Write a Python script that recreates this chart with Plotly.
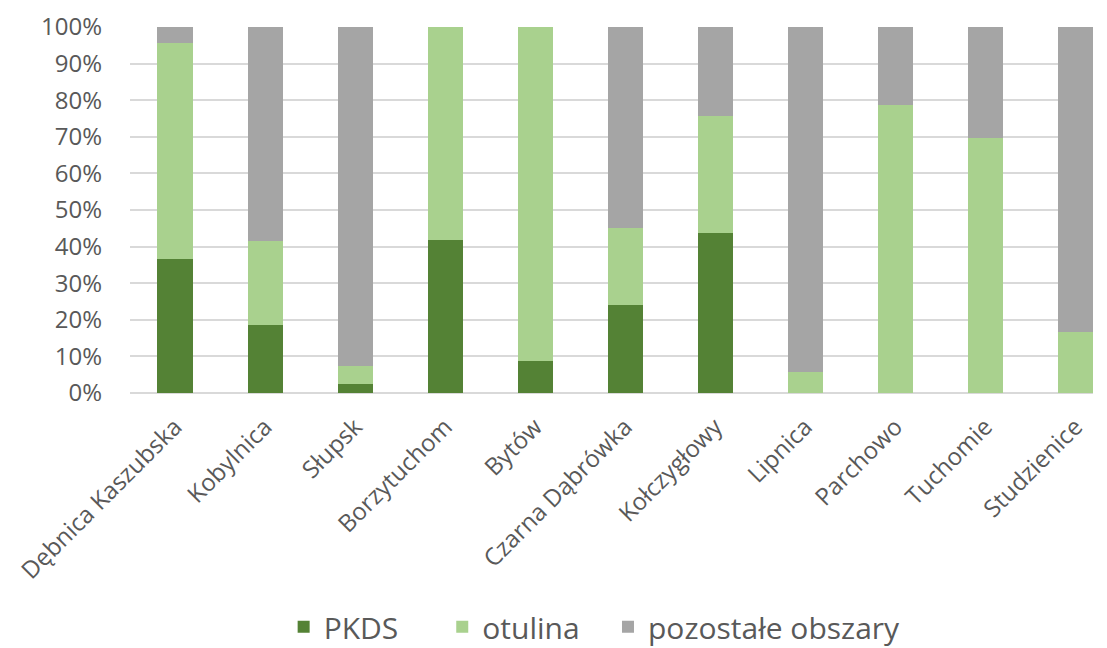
import plotly.graph_objects as go

categories = ["Dębnica Kaszubska", "Kobylnica", "Słupsk", "Borzytuchom", "Bytów",
              "Czarna Dąbrówka", "Kołczygłowy", "Lipnica", "Parchowo", "Tuchomie", "Studzienice"]
pkds = [36.6, 18.5, 2.4, 41.8, 8.7, 24.1, 43.8, 0.0, 0.0, 0.0, 0.0]
otulina = [59.0, 23.1, 5.0, 58.2, 91.3, 20.9, 31.8, 5.8, 78.8, 69.8, 16.8]
pozostale = [4.4, 58.4, 92.6, 0.0, 0.0, 55.0, 24.4, 94.2, 21.2, 30.2, 83.2]
series_names = ["PKDS", "otulina", "pozostałe obszary"]
y_ticks = [0, 10, 20, 30, 40, 50, 60, 70, 80, 90, 100]
y_tick_labels = [f"{v}%" for v in y_ticks]

font_family = "'Open Sans', Lato, sans-serif"
text_color = "#595959"
colors = ["#548235", "#A9D18E", "#A5A5A5"]
# trailing non-breaking spaces emulate Excel's equal-width legend entries
name_pad = [5, 3, 0]

fig = go.Figure()
for name, vals, color, pad in zip(series_names, [pkds, otulina, pozostale], colors, name_pad):
    fig.add_trace(go.Bar(x=categories, y=vals, name=name + "\u00a0" * pad,
                         marker_color=color, marker_line_width=0, width=0.39))

fig.update_layout(
    barmode="stack",
    width=1107, height=648,
    margin=dict(l=122, r=22, t=19, b=263, autoexpand=False),
    paper_bgcolor="white", plot_bgcolor="white",
    font=dict(family=font_family, color=text_color, size=24),
    legend=dict(orientation="h", xref="container", x=0.249, xanchor="left",
                yref="container", y=0.045, yanchor="middle",
                font=dict(size=30, color=text_color), traceorder="normal",
                itemwidth=30),
    showlegend=True,
)
fig.update_xaxes(range=[-0.5, 10.195], tickangle=-45, showgrid=False, automargin=False,
                 showline=False, ticks="", ticklabelstandoff=14,
                 tickfont=dict(size=24, color=text_color))
fig.update_yaxes(range=[0, 100], tickvals=y_ticks, ticktext=y_tick_labels, automargin=False,
                 showgrid=True, gridcolor="#D9D9D9", gridwidth=1.5,
                 zeroline=True, zerolinecolor="#D9D9D9", zerolinewidth=1.5,
                 ticks="", ticklabelstandoff=27,
                 tickfont=dict(size=24, color=text_color))

fig.write_html("out.html")
